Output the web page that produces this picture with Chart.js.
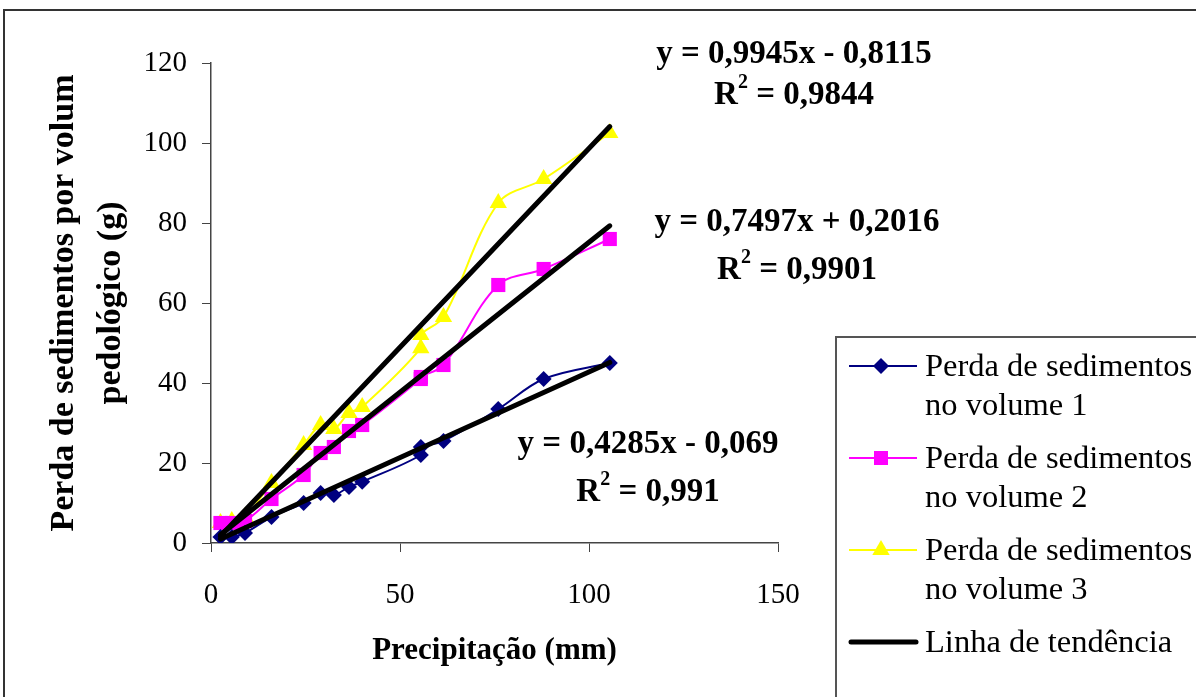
<!DOCTYPE html>
<html>
<head>
<meta charset="utf-8">
<script src="https://cdn.jsdelivr.net/npm/chart.js@4.4.1/dist/chart.umd.min.js"></script>
<style>
  html, body { margin: 0; padding: 0; background: #fff; }
</style>
</head>
<body>
<canvas id="myChart" width="1196" height="697"></canvas>
<script>
// precipitation (mm), shared by the three series
var precip = [2.5, 5.5, 9, 16, 24.5, 29, 32.5, 36.5, 40, 55.5, 55.5, 61.5, 76, 88, 105.5];
var vol1 = [1.5, 1.5, 2.5, 6.5, 10, 12.5, 12, 14, 15.3, 22, 24, 25.5, 33.5, 41, 45];
var vol2 = [5, 5, 5.5, 11, 17, 22.5, 24, 28, 29.5, 41, 41.5, 44.5, 64.5, 68.5, 76];
var vol3 = [5, 5.5, 6.5, 15, 24.5, 29.5, 28.5, 32.5, 34, 48.7, 52, 56.5, 85, 91, 102.5];

var seriesNames = [
  ["Perda de sedimentos", "no volume 1"],
  ["Perda de sedimentos", "no volume 2"],
  ["Perda de sedimentos", "no volume 3"]
];
var trendName = "Linha de tendência";

// regression lines (volume 1, 2, 3)
var slopes = [0.4285, 0.7497, 0.9945];
var intercepts = [-0.069, 0.2016, -0.8115];
var rSquared = [0.991, 0.9901, 0.9844];

var xTitle = "Precipitação (mm)";
var yTitle = ["Perda de sedimentos por volum", "pedológico (g)"];

var serif = "'Liberation Serif', 'Times New Roman', serif";

function toPoints(ys) {
  return precip.map(function (x, i) { return { x: x, y: ys[i] }; });
}
function trendPoints(k) {
  var x0 = precip[0], x1 = precip[precip.length - 1];
  return [
    { x: x0, y: slopes[k] * x0 + intercepts[k] },
    { x: x1, y: slopes[k] * x1 + intercepts[k] }
  ];
}
function fmt(v) { return String(v).replace(".", ","); }

var colors = ["#000080", "#ff00ff", "#ffff00"];
var markers = ["rectRot", "rect", "triangle"];
var markerSize = [8, 10, 10];
var seriesData = [vol1, vol2, vol3];

var datasets = [];
for (var i = 0; i < 3; i++) {
  datasets.push({
    label: seriesNames[i].join(" "),
    data: toPoints(seriesData[i]),
    borderColor: colors[i],
    backgroundColor: colors[i],
    borderWidth: 2,
    pointStyle: markers[i],
    pointRadius: markerSize[i],
    pointBorderWidth: 0,
    tension: 0.35,
    order: 2
  });
}
for (var k = 0; k < 3; k++) {
  datasets.push({
    label: trendName,
    data: trendPoints(k),
    borderColor: "#000",
    borderWidth: 5,
    borderCapStyle: "round",
    pointRadius: 0,
    order: 1
  });
}

function drawMarker(ctx, style, x, y, color) {
  ctx.fillStyle = color;
  ctx.beginPath();
  if (style === "rectRot") {
    ctx.moveTo(x, y - 8); ctx.lineTo(x + 8, y); ctx.lineTo(x, y + 8); ctx.lineTo(x - 8, y);
  } else if (style === "rect") {
    ctx.rect(x - 7, y - 7, 14, 14);
  } else {
    ctx.moveTo(x, y - 10); ctx.lineTo(x + 8.7, y + 5); ctx.lineTo(x - 8.7, y + 5);
  }
  ctx.closePath();
  ctx.fill();
}

var extras = {
  id: "extras",
  afterDraw: function (chart) {
    var ctx = chart.ctx;
    ctx.save();
    // outer frame
    ctx.strokeStyle = "#333";
    ctx.lineWidth = 2;
    ctx.strokeRect(4, 10, 1300, 800);

    // equations
    var eqPos = [[648, 453, 501], [797, 231, 279], [794, 63, 104]];
    ctx.fillStyle = "#000";
    for (var k = 0; k < 3; k++) {
      var cx = eqPos[k][0];
      var b = intercepts[k];
      var eq = "y = " + fmt(slopes[k]) + "x " + (b < 0 ? "- " : "+ ") + fmt(Math.abs(b));
      ctx.font = "bold 33px " + serif;
      ctx.textAlign = "center";
      ctx.textBaseline = "alphabetic";
      ctx.fillText(eq, cx, eqPos[k][1]);
      var rest = " = " + fmt(rSquared[k]);
      var wR = ctx.measureText("R").width;
      var wRest = ctx.measureText(rest).width;
      ctx.font = "bold 20px " + serif;
      var w2 = ctx.measureText("2").width;
      var x = cx - (wR + w2 + wRest) / 2;
      ctx.textAlign = "left";
      ctx.font = "bold 33px " + serif;
      ctx.fillText("R", x, eqPos[k][2]);
      ctx.font = "bold 20px " + serif;
      ctx.fillText("2", x + wR, eqPos[k][2] - 16);
      ctx.font = "bold 33px " + serif;
      ctx.fillText(rest, x + wR + w2, eqPos[k][2]);
    }

    // legend
    ctx.fillStyle = "#fff";
    ctx.fillRect(836, 337, 400, 400);
    ctx.strokeStyle = "#555";
    ctx.lineWidth = 2;
    ctx.strokeRect(836, 337, 400, 400);
    ctx.font = "32.5px " + serif;
    ctx.textAlign = "left";
    ctx.textBaseline = "alphabetic";
    var rowY = [366, 458, 550];
    for (var i = 0; i < 3; i++) {
      var y = rowY[i];
      ctx.strokeStyle = colors[i];
      ctx.lineWidth = 2;
      ctx.beginPath();
      ctx.moveTo(849, y); ctx.lineTo(917, y);
      ctx.stroke();
      drawMarker(ctx, markers[i], 881, y, colors[i]);
      ctx.fillStyle = "#000";
      ctx.fillText(seriesNames[i][0], 925, y + 10);
      ctx.fillText(seriesNames[i][1], 925, y + 49);
    }
    ctx.strokeStyle = "#000";
    ctx.lineWidth = 5;
    ctx.lineCap = "round";
    ctx.beginPath();
    ctx.moveTo(851, 642); ctx.lineTo(916, 642);
    ctx.stroke();
    ctx.fillStyle = "#000";
    ctx.fillText(trendName, 925, 652);
    ctx.restore();
  }
};

const ctx = document.getElementById("myChart").getContext("2d");
const myChart = new Chart(ctx, {
  type: "line",
  data: { datasets: datasets },
  options: {
    responsive: false,
    animation: false,
    devicePixelRatio: 1,
    layout: { padding: { left: 40, top: 63, right: 418, bottom: 0 } },
    plugins: {
      legend: { display: false },
      tooltip: { enabled: false }
    },
    scales: {
      x: {
        type: "linear",
        min: 0,
        max: 150,
        ticks: { stepSize: 50, color: "#000", padding: 26, font: { family: serif, size: 29 } },
        grid: { drawOnChartArea: false, tickLength: 9, color: "#444" },
        border: { color: "#444", width: 1.5 },
        title: {
          display: true, text: xTitle, color: "#000",
          font: { family: serif, size: 31, weight: "bold" },
          padding: { top: 0, bottom: 27 }
        },
        afterFit: function (s) { s.height = 154; }
      },
      y: {
        min: 0,
        max: 120,
        ticks: { stepSize: 20, color: "#000", padding: 15, font: { family: serif, size: 29 } },
        grid: { drawOnChartArea: false, tickLength: 9, color: "#444" },
        border: { color: "#444", width: 1.5 },
        title: {
          display: true, text: yTitle, color: "#000",
          font: { family: serif, size: 34, weight: "bold", lineHeight: 1.4 },
          padding: { top: 0, bottom: 0 }
        },
        afterFit: function (s) { s.width = 171; }
      }
    }
  },
  plugins: [extras]
});
</script>
</body>
</html>
